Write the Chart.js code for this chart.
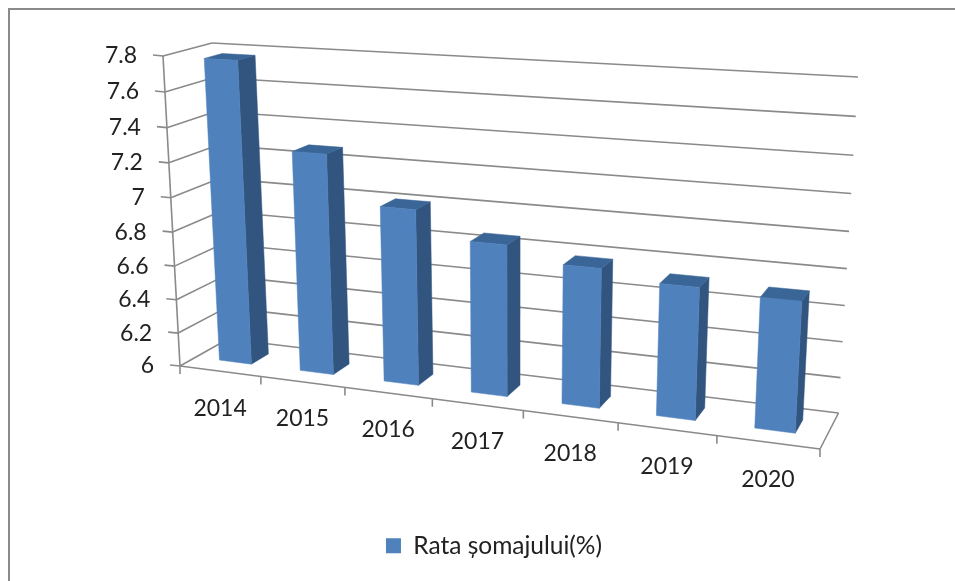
<!DOCTYPE html>
<html>
<head>
<meta charset="utf-8">
<title>Rata somajului</title>
<script src="https://cdn.jsdelivr.net/npm/chart.js@4"></script>
<style>
    body { margin: 0; background: #fff; }
    /* grey frame of the pasted chart, cut off on the right and bottom */
    #frame { position: absolute; left: 8px; top: 8px; width: 947px; height: 573px;
             border-left: 2px solid #8a8a8a; border-top: 2px solid #8a8a8a; box-sizing: border-box; }
    #chart { position: absolute; left: 0; top: 0; }
</style>
</head>
<body>
<div id="frame"></div>
<canvas id="chart" width="955" height="581"></canvas>
<script>
const years = ['2014', '2015', '2016', '2017', '2018', '2019', '2020'];
const rates = [7.77, 7.28, 7.01, 6.86, 6.78, 6.73, 6.71];
const yTickLabels = ['6', '6.2', '6.4', '6.6', '6.8', '7', '7.2', '7.4', '7.6', '7.8'];
const yMin = 6;
const yMax = 7.8;

// Where the 3D box of the plot sits on screen: [bottom-left, bottom-right, top-right, top-left]
const frontWall = [[180, 366], [820, 449], [839, 94], [163, 56]];
const backWall = [[228, 339], [838.5, 413], [858, 77], [212, 43]];
const barDepth = [0.33, 0.7];

const fontName = 'Lato, "Open Sans", sans-serif';
const lineColor = '#8a8a8a';
const textColor = '#222';

// Projective map of the unit square onto a quad
function squareToQuad(q) {
    const [x0, y0] = q[0], [x1, y1] = q[1], [x2, y2] = q[2], [x3, y3] = q[3];
    const dx1 = x1 - x2, dx2 = x3 - x2, sx = x0 - x1 + x2 - x3;
    const dy1 = y1 - y2, dy2 = y3 - y2, sy = y0 - y1 + y2 - y3;
    const den = dx1 * dy2 - dx2 * dy1;
    const g = (sx * dy2 - dx2 * sy) / den;
    const h = (dx1 * sy - sx * dy1) / den;
    return function(u, v) {
        const w = g * u + h * v + 1;
        return [
            ((x1 - x0 + g * x1) * u + (x3 - x0 + h * x3) * v + x0) / w,
            ((y1 - y0 + g * y1) * u + (y3 - y0 + h * y3) * v + y0) / w
        ];
    };
}

const frontMap = squareToQuad(frontWall);
const backMap = squareToQuad(backWall);

// u along the categories, v up the value axis, w into the depth
function project(u, v, w) {
    const f = frontMap(u, v), b = backMap(u, v);
    return [f[0] + (b[0] - f[0]) * w, f[1] + (b[1] - f[1]) * w];
}

function line(ctx, a, b) {
    ctx.beginPath();
    ctx.moveTo(a[0], a[1]);
    ctx.lineTo(b[0], b[1]);
    ctx.stroke();
}

function face(ctx, points, color) {
    ctx.fillStyle = color;
    ctx.strokeStyle = color;
    ctx.lineWidth = 0.5;
    ctx.beginPath();
    points.forEach(function(p, i) {
        if (i === 0) ctx.moveTo(p[0], p[1]);
        else ctx.lineTo(p[0], p[1]);
    });
    ctx.closePath();
    ctx.fill();
    ctx.stroke();
}

const box3d = {
    id: 'box3d',
    // Axes, gridlines and labels are placed from the library's scales, then projected
    beforeDatasetsDraw(chart) {
        const ctx = chart.ctx;
        const area = chart.chartArea;
        const xScale = chart.scales.x;
        const yScale = chart.scales.y;

        ctx.save();
        ctx.strokeStyle = lineColor;
        ctx.lineWidth = 1.6;
        ctx.font = '23px ' + fontName;
        ctx.fillStyle = textColor;
        ctx.textBaseline = 'middle';

        yScale.ticks.forEach(function(tick, i) {
            const v = (area.bottom - yScale.getPixelForTick(i)) / area.height;
            const corner = project(0, v, 0);
            line(ctx, corner, project(0, v, 1));
            line(ctx, project(0, v, 1), project(1, v, 1));
            line(ctx, corner, [corner[0] - 10, corner[1] - 1]);
            ctx.textAlign = 'right';
            ctx.fillText(tick.label, corner[0] - 26, corner[1]);
        });

        line(ctx, project(0, 0, 0), project(0, 1, 0));
        line(ctx, project(0, 0, 0), project(1, 0, 0));
        line(ctx, project(1, 0, 0), project(1, 0, 1));

        const slot = area.width / years.length;
        xScale.ticks.forEach(function(tick, i) {
            const u = (xScale.getPixelForTick(i) - area.left) / area.width;
            const edge = project(u + slot / area.width / 2, 0, 0);
            line(ctx, edge, [edge[0], edge[1] + 8]);
            const mid = project(u, 0, 0);
            ctx.textAlign = 'center';
            ctx.fillText(tick.label, mid[0], mid[1] + 37);
        });
        const first = project(0, 0, 0);
        line(ctx, first, [first[0], first[1] + 8]);

        // Bars: the library works out x, y, base and width, only the drawing is replaced
        chart.getDatasetMeta(0).data.forEach(function(bar) {
            const u0 = (bar.x - bar.width / 2 - area.left) / area.width;
            const u1 = (bar.x + bar.width / 2 - area.left) / area.width;
            const v0 = (area.bottom - bar.base) / area.height;
            const v1 = (area.bottom - bar.y) / area.height;
            const w0 = barDepth[0], w1 = barDepth[1];
            face(ctx, [project(u1, v0, w0), project(u1, v0, w1), project(u1, v1, w1), project(u1, v1, w0)], '#325580');
            face(ctx, [project(u0, v1, w0), project(u1, v1, w0), project(u1, v1, w1), project(u0, v1, w1)], '#3a6597');
            face(ctx, [project(u0, v0, w0), project(u1, v0, w0), project(u1, v1, w0), project(u0, v1, w0)], '#4f81bd');
        });
        ctx.restore();
        return false;
    }
};

new Chart(document.getElementById('chart').getContext('2d'), {
    type: 'bar',
    data: {
        labels: years,
        datasets: [{
            label: 'Rata șomajului(%)',
            data: rates,
            base: yMin,
            backgroundColor: '#4f81bd',
            borderWidth: 0,
            categoryPercentage: 1,
            barPercentage: 0.4
        }]
    },
    options: {
        responsive: false,
        animation: false,
        layout: { padding: { left: 33, bottom: 13 } },
        scales: {
            x: {
                grid: { display: false },
                border: { display: false },
                ticks: { display: false, autoSkip: false }
            },
            y: {
                min: yMin,
                max: yMax,
                grid: { display: false },
                border: { display: false },
                ticks: {
                    display: false,
                    stepSize: 0.2,
                    autoSkip: false,
                    callback: function(value, index) { return yTickLabels[index]; }
                }
            }
        },
        plugins: {
            tooltip: { enabled: false },
            legend: {
                display: true,
                position: 'bottom',
                labels: {
                    boxWidth: 15,
                    boxHeight: 15,
                    color: textColor,
                    font: { family: fontName, size: 24.5 }
                }
            }
        }
    },
    plugins: [box3d]
});
</script>
</body>
</html>
